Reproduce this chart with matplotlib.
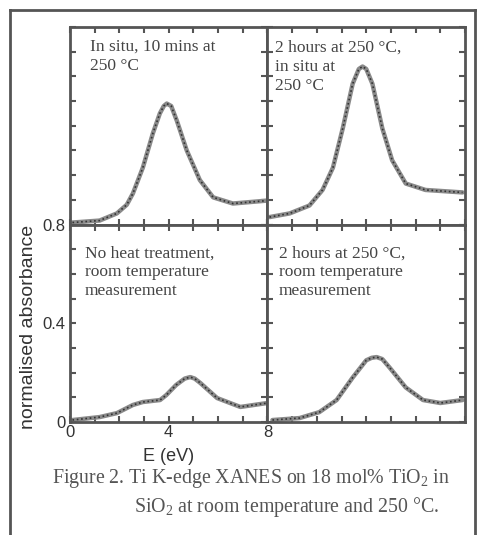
import numpy as np
import matplotlib
matplotlib.use('Agg')
import matplotlib.pyplot as plt
from matplotlib.lines import Line2D
from matplotlib.ticker import MultipleLocator

plt.rcParams['mathtext.fontset'] = 'custom'
plt.rcParams['mathtext.rm'] = 'Liberation Serif'

# panel data (E in eV, normalised absorbance)
e_tl = [0.1, 1.2, 1.9, 2.3, 2.55, 2.95, 3.36, 3.64, 3.8, 3.92, 4.1, 4.33, 4.73, 5.26, 5.8, 6.6, 8.0]
a_tl = [0.808, 0.816, 0.845, 0.88, 0.926, 1.03, 1.17, 1.25, 1.28, 1.29, 1.28, 1.22, 1.10, 0.98, 0.91, 0.885, 0.897]

e_tr = [0.08, 0.9, 1.7, 2.23, 2.65, 3.05, 3.45, 3.7, 3.85, 4.0, 4.25, 4.65, 5.05, 5.6, 6.4, 7.9]
a_tr = [0.83, 0.845, 0.877, 0.94, 1.03, 1.19, 1.37, 1.43, 1.44, 1.43, 1.37, 1.19, 1.06, 0.966, 0.94, 0.93]

e_bl = [0.1, 1.2, 1.9, 2.55, 2.95, 3.65, 3.9, 4.3, 4.65, 4.87, 5.05, 5.28, 5.96, 6.9, 8.0]
a_bl = [0.008, 0.02, 0.036, 0.069, 0.081, 0.089, 0.109, 0.15, 0.176, 0.182, 0.176, 0.158, 0.097, 0.061, 0.077]

e_br = [0.2, 1.3, 2.1, 2.8, 3.45, 4.0, 4.22, 4.42, 4.65, 4.95, 5.6, 6.3, 7.0, 7.9]
a_br = [0.008, 0.016, 0.04, 0.089, 0.18, 0.25, 0.26, 0.263, 0.255, 0.22, 0.14, 0.089, 0.077, 0.089]

labels = ['In situ, 10 mins at\n250 \u00b0C',
          '2 hours at 250 \u00b0C,\nin situ at\n250 \u00b0C',
          'No heat treatment,\nroom temperature\nmeasurement',
          '2 hours at 250 \u00b0C,\nroom temperature\nmeasurement']
label_pos = [(0.10, 0.94), (0.04, 0.935), (0.076, 0.895), (0.056, 0.895)]

fig = plt.figure(figsize=(4.78, 5.35), dpi=100)
gs = fig.add_gridspec(2, 2, left=0.1464, right=0.9728, top=0.9495, bottom=0.2112,
                      hspace=0, wspace=0)

panels = [(e_tl, a_tl, 0, 0), (e_tr, a_tr, 0, 1), (e_bl, a_bl, 1, 0), (e_br, a_br, 1, 1)]
for k, (e, a, r, c) in enumerate(panels):
    ax = fig.add_subplot(gs[r, c])
    ax.plot(e, a, color='#8a8a8a', lw=3.2, solid_capstyle='round', solid_joinstyle='round')
    ax.plot(e, a, color='#333333', lw=1.2, linestyle=(0, (1, 1.6)))
    ax.set_xlim(0, 8)
    if r == 0:
        ax.set_ylim(0.8, 1.6)
    else:
        ax.set_ylim(0, 0.8)
    ax.xaxis.set_major_locator(MultipleLocator(4))
    ax.xaxis.set_minor_locator(MultipleLocator(1))
    ax.yaxis.set_major_locator(MultipleLocator(0.4))
    ax.yaxis.set_minor_locator(MultipleLocator(0.1))
    ax.tick_params(which='both', direction='in', top=True, right=True,
                   length=4, width=1.5, color='#555555')
    for sp in ax.spines.values():
        sp.set_linewidth(2)
        sp.set_color('#555555')
    if r == 1 and c == 0:
        ax.set_xticks([0, 4, 8])
        ax.set_xticklabels(['0', '4', '8'])
        ax.set_yticks([0, 0.4, 0.8])
        ax.set_yticklabels(['0', '0.4', '0.8'])
        for t in ax.get_xticklabels() + ax.get_yticklabels():
            t.set_fontfamily('Liberation Sans')
            t.set_fontsize(12)
            t.set_color('#333333')
        ax.tick_params(axis='x', pad=2)
        ax.tick_params(axis='y', pad=3)
        ax.set_xlabel('E (eV)', fontsize=13, family='Liberation Sans', color='#333333', labelpad=6)
        ax.set_ylabel('normalised absorbance', fontsize=14, family='Liberation Sans',
                      color='#333333')
        ax.yaxis.set_label_coords(-0.165, 0.48)
    else:
        ax.set_xticklabels([])
        ax.set_yticklabels([])
    ax.text(label_pos[k][0], label_pos[k][1], labels[k], transform=ax.transAxes,
            family='Liberation Serif', fontsize=12.5, color='#444444',
            va='top', ha='left', linespacing=1.25)

fig.text(0.526, 0.106, 'Figure 2. Ti K-edge XANES on 18 mol% TiO$_2$ in',
         family='Liberation Serif', fontsize=14.3, color='#555555', ha='center', va='center')
fig.text(0.599, 0.052, 'SiO$_2$ at room temperature and 250 \u00b0C.',
         family='Liberation Serif', fontsize=14.3, color='#555555', ha='center', va='center')

# outer frame
W, H = 478.0, 535.0
x0, x1, y0 = 10 / W, 475 / W, 1 - 10 / H
for xs, ys in [([x0, x0], [0, y0]), ([x0, x1], [y0, y0]), ([x1, x1], [y0, 0])]:
    fig.add_artist(Line2D(xs, ys, color='#555555', lw=2))

fig.savefig('out.png', dpi=100)
